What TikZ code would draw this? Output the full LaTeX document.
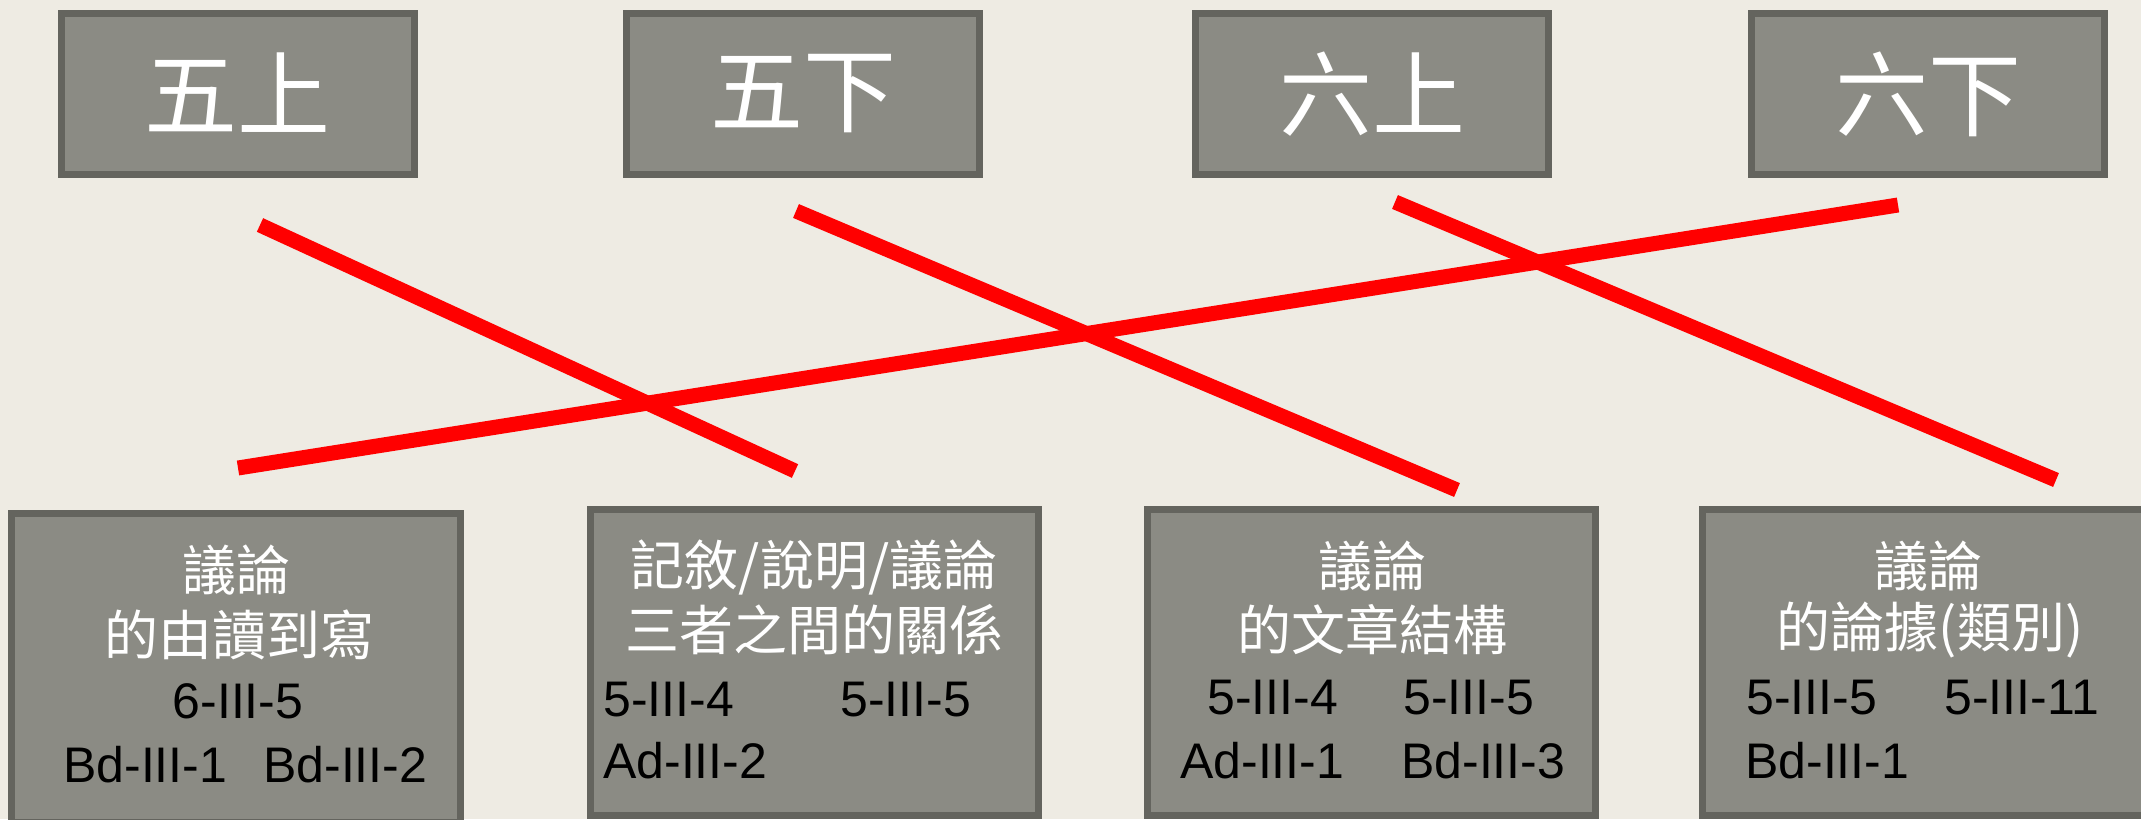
\documentclass[tikz,border=0pt]{standalone}
\usepackage{fontspec}
\setmainfont{Liberation Sans}
\newfontfamily\cjkfont{Noto Sans CJK TC}
\definecolor{paper}{HTML}{EEEBE3}
\definecolor{boxfill}{HTML}{8B8B84}
\definecolor{boxline}{HTML}{64645E}

\begin{document}
\begin{tikzpicture}[x=1pt, y=-1pt,
  grade/.style={draw=boxline, fill=boxfill, line width=7pt, inner sep=0pt, outer sep=0pt,
    minimum width=353pt, minimum height=161pt, text=white, font=\cjkfont\fontsize{93}{100}\selectfont},
  topic/.style={draw=boxline, fill=boxfill, line width=7pt, inner sep=0pt, outer sep=0pt,
    minimum width=448pt, minimum height=306pt},
  title/.style={text=white, inner sep=0pt, font=\cjkfont\fontsize{54}{60}\selectfont},
  code/.style={text=black, inner sep=0pt, font=\fontsize{50}{56}\selectfont},
  link/.style={red, line width=15pt}]
  \useasboundingbox (0,0) rectangle (2141,819);
  \clip (0,0) rectangle (2141,819);
  \fill[paper] (0,0) rectangle (2141,819);

  % grades
  \node [grade] (g5a) at (237.5,94) {\raisebox{5pt}{五上}};
  \node [grade] (g5b) at (803,94) {\raisebox{5pt}{五下}};
  \node [grade] (g6a) at (1372,94) {\raisebox{5pt}{六上}};
  \node [grade] (g6b) at (1928,94) {\raisebox{5pt}{六下}};

  % topics
  \node [topic, minimum height=309pt, minimum width=449pt] (t1) at (236,668) {};
  \node [topic] (t2) at (814.5,662.5) {};
  \node [topic] (t3) at (1371.5,662.5) {};
  \node [topic] (t4) at (1926.5,662.5) {};

  \node [title] (t1a) at (236,570) {議論};
  \node [title] (t1b) at (239,635) {的由讀到寫};
  \node [code] (t1c) at (238,701) {6-III-5};
  \node [code, anchor=west] (t1d) at (63,765) {Bd-III-1};
  \node [code, anchor=west] (t1e) at (263,765) {Bd-III-2};

  \node [title] (t2a) at (814,567) {記敘/說明/議論};
  \node [title] (t2b) at (814,630) {三者之間的關係};
  \node [code, anchor=west] (t2c) at (603,700) {5-III-4};
  \node [code, anchor=west] (t2d) at (840,700) {5-III-5};
  \node [code, anchor=west] (t2e) at (603,761) {Ad-III-2};

  \node [title] (t3a) at (1372,566) {議論};
  \node [title] (t3b) at (1372,630) {的文章結構};
  \node [code, anchor=west] (t3c) at (1207,698) {5-III-4};
  \node [code, anchor=west] (t3d) at (1403,698) {5-III-5};
  \node [code, anchor=west] (t3e) at (1180,761) {Ad-III-1};
  \node [code, anchor=west] (t3f) at (1401,761) {Bd-III-3};

  \node [title] (t4a) at (1928,566) {議論};
  \node [title] (t4b) at (1930,630) {的論據(類別)};
  \node [code, anchor=west] (t4c) at (1746,698) {5-III-5};
  \node [code, anchor=west] (t4d) at (1944,698) {5-III-11};
  \node [code, anchor=west] (t4e) at (1745,761) {Bd-III-1};

  % links
  \coordinate (l1a) at (260,225);
  \coordinate (l1b) at (795,471);
  \coordinate (l2a) at (796,211);
  \coordinate (l2b) at (1457,490);
  \coordinate (l3a) at (1395,202);
  \coordinate (l3b) at (2056,480);
  \coordinate (l4a) at (238,468);
  \coordinate (l4b) at (1898,205);
  \draw [link] (l1a) -- (l1b);
  \draw [link] (l2a) -- (l2b);
  \draw [link] (l3a) -- (l3b);
  \draw [link] (l4a) -- (l4b);
\end{tikzpicture}
\end{document}
